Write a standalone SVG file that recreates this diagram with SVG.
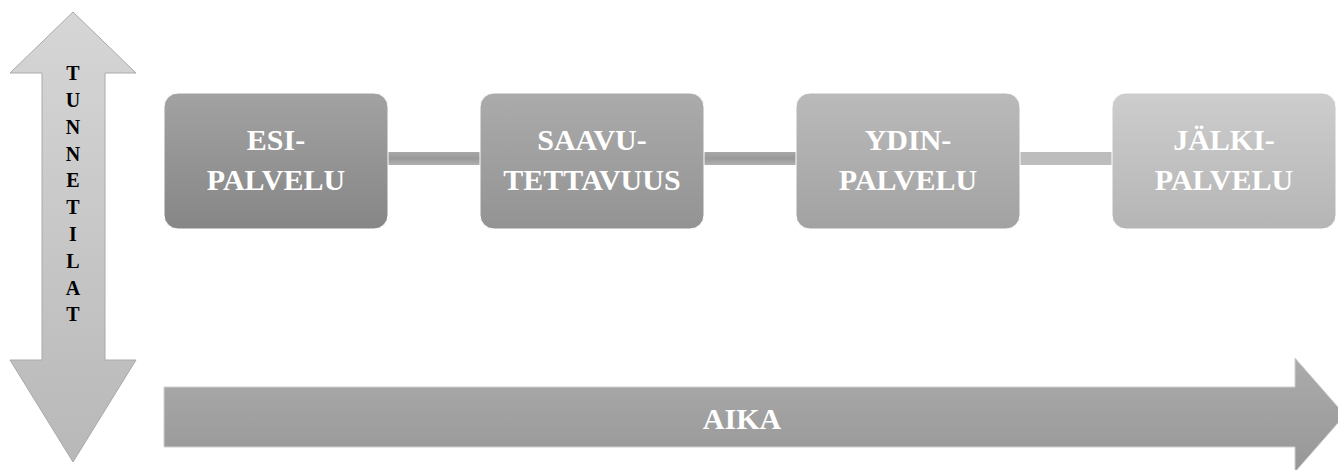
<svg xmlns="http://www.w3.org/2000/svg" width="1338" height="470" viewBox="0 0 1338 470">
<defs>
<linearGradient id="gv" x1="0" y1="0" x2="0" y2="1"><stop offset="0" stop-color="#d6d6d6"/><stop offset="1" stop-color="#b8b8b8"/></linearGradient>
<linearGradient id="gh" x1="0" y1="0" x2="0" y2="1"><stop offset="0" stop-color="#ababab"/><stop offset="1" stop-color="#979797"/></linearGradient>
<linearGradient id="g1" x1="0" y1="0" x2="0" y2="1"><stop offset="0" stop-color="#a2a2a2"/><stop offset="1" stop-color="#868686"/></linearGradient>
<linearGradient id="g2" x1="0" y1="0" x2="0" y2="1"><stop offset="0" stop-color="#ababab"/><stop offset="1" stop-color="#939393"/></linearGradient>
<linearGradient id="g3" x1="0" y1="0" x2="0" y2="1"><stop offset="0" stop-color="#bababa"/><stop offset="1" stop-color="#a2a2a2"/></linearGradient>
<linearGradient id="g4" x1="0" y1="0" x2="0" y2="1"><stop offset="0" stop-color="#cdcdcd"/><stop offset="1" stop-color="#b5b5b5"/></linearGradient>
<linearGradient id="gc" x1="0" y1="0" x2="0" y2="1"><stop offset="0" stop-color="#a8a8a8"/><stop offset="0.5" stop-color="#999"/><stop offset="1" stop-color="#b0b0b0"/></linearGradient>
</defs>
<style>
.box{stroke:#ffffff;stroke-width:1}
.lbl{font-family:"Liberation Serif",serif;font-weight:bold;font-size:30px;fill:#ffffff;text-anchor:middle}
.vl{font-family:"Liberation Serif",serif;font-weight:bold;font-size:20px;fill:#000000;text-anchor:middle}
.conn{fill:url(#gc)}
</style>
<g id="tunnetilat">
<polygon points="73,12 136,73 105,73 105,360 136,360 73,462 10,360 42,360 42,73 10,73" fill="url(#gv)" stroke="#aaaaaa" stroke-width="1"/>
<text class="vl" x="73" y="80">T</text>
<text class="vl" x="73" y="107">U</text>
<text class="vl" x="73" y="134">N</text>
<text class="vl" x="73" y="161">N</text>
<text class="vl" x="73" y="187">E</text>
<text class="vl" x="73" y="214">T</text>
<text class="vl" x="73" y="241">I</text>
<text class="vl" x="73" y="268">L</text>
<text class="vl" x="73" y="295">A</text>
<text class="vl" x="73" y="321">T</text>
</g>
<g id="aika">
<polygon points="164,387 1295,387 1295,358 1345,415 1295,472 1295,447 164,447" fill="url(#gh)" stroke="#d0d0d0" stroke-width="1"/>
<text class="lbl" x="742" y="429">AIKA</text>
</g>
<g id="connectors">
<rect class="conn" x="388" y="152" width="92" height="13"/>
<rect class="conn" x="704" y="152" width="92" height="13"/>
<rect class="conn" x="1020" y="152" width="92" height="13" style="fill:#bdbdbd"/>
</g>
<g id="esipalvelu">
<rect class="box" x="164" y="93" width="224" height="136" rx="14" fill="url(#g1)"/>
<text class="lbl" x="276" y="150">ESI-</text>
<text class="lbl" x="276" y="190">PALVELU</text>
</g>
<g id="saavutettavuus">
<rect class="box" x="480" y="93" width="224" height="136" rx="14" fill="url(#g2)"/>
<text class="lbl" x="592" y="150">SAAVU-</text>
<text class="lbl" x="592" y="190">TETTAVUUS</text>
</g>
<g id="ydinpalvelu">
<rect class="box" x="796" y="93" width="224" height="136" rx="14" fill="url(#g3)"/>
<text class="lbl" x="908" y="150">YDIN-</text>
<text class="lbl" x="908" y="190">PALVELU</text>
</g>
<g id="jalkipalvelu">
<rect class="box" x="1112" y="93" width="224" height="136" rx="14" fill="url(#g4)"/>
<text class="lbl" x="1224" y="150">JÄLKI-</text>
<text class="lbl" x="1224" y="190">PALVELU</text>
</g>
</svg>
